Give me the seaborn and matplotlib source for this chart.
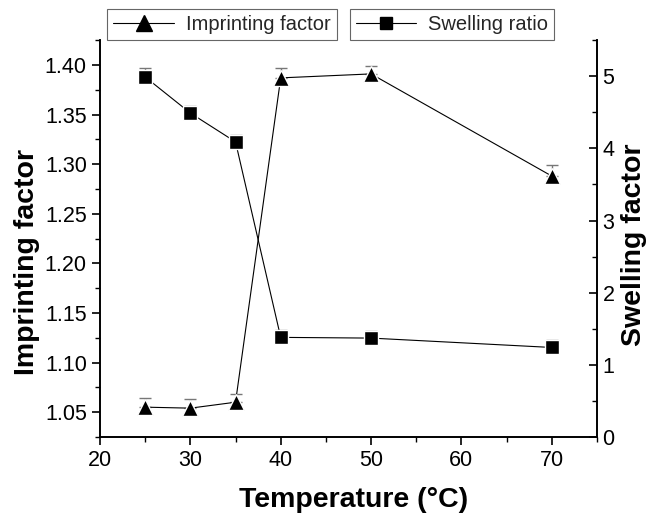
import matplotlib
matplotlib.use("Agg")
import matplotlib.pyplot as plt
import seaborn as sns
import pandas as pd
from matplotlib.ticker import MultipleLocator
from matplotlib.lines import Line2D

temps = [25, 30, 35, 40, 50, 70]
imprint = [1.055, 1.054, 1.060, 1.387, 1.391, 1.288]
imprint_err = [0.009, 0.009, 0.008, 0.010, 0.008, 0.011]
swell = [4.99, 4.49, 4.09, 1.38, 1.37, 1.24]
swell_err = [0.12, 0.10, 0.09, 0.10, 0.10, 0.10]

x_ticks = [20, 30, 40, 50, 60, 70]
left_ticks = [1.05, 1.10, 1.15, 1.20, 1.25, 1.30, 1.35, 1.40]
right_ticks = [0, 1, 2, 3, 4, 5]

sns.set_theme(style="white")
plt.rcParams['font.family'] = ['Liberation Sans', 'DejaVu Sans']

df = pd.DataFrame({"T": temps, "imp": imprint, "sw": swell})

fig = plt.figure(figsize=(6.51, 5.22), dpi=100)
ax = fig.add_axes([0.1536, 0.163, 0.7634, 0.760])
ax2 = ax.twinx()

line_kw = dict(color="black", linewidth=0.8, markeredgecolor="white", markeredgewidth=1.0)
sns.lineplot(data=df, x="T", y="imp", ax=ax, marker="^", markersize=12, zorder=3, **line_kw)
ax.errorbar(temps, imprint, yerr=[[0] * len(temps), imprint_err], fmt="none",
            ecolor="#777777", elinewidth=1.0, capsize=4.5, capthick=1.0, zorder=2)

sns.lineplot(data=df, x="T", y="sw", ax=ax2, marker="s", markersize=9.5, zorder=3, **line_kw)
ax2.errorbar(temps, swell, yerr=[[0] * len(temps), swell_err], fmt="none",
             ecolor="#777777", elinewidth=1.0, capsize=4.5, capthick=1.0, zorder=2)

ax.set_xlim(20, 75)
ax.set_ylim(1.025, 1.425)
ax2.set_ylim(0, 5.5)
ax.set_xticks(x_ticks)
ax.set_yticks(left_ticks)
ax2.set_yticks(right_ticks)
ax.set_yticklabels([f"{v:.2f}" for v in left_ticks])
ax.xaxis.set_minor_locator(MultipleLocator(5))
ax.yaxis.set_minor_locator(MultipleLocator(0.025))
ax2.yaxis.set_minor_locator(MultipleLocator(0.5))

for a in (ax, ax2):
    a.spines["top"].set_visible(False)
    for s in a.spines.values():
        s.set_color("black")
        s.set_linewidth(1.2)
    a.grid(False)

ax.tick_params(axis="both", which="major", direction="out", length=6, width=1.2,
               labelsize=15.5, color="black", labelcolor="black", left=True, bottom=True)
ax.tick_params(axis="both", which="minor", direction="out", length=3.5, width=1.0,
               color="black", left=True, bottom=True)
ax2.tick_params(axis="y", which="major", direction="in", length=6, width=1.2,
                labelsize=15.5, color="black", labelcolor="black", right=True, pad=4)
ax2.tick_params(axis="y", which="minor", direction="in", length=3.5, width=1.0,
                color="black", right=True)

bold = dict(fontsize=20.5, fontweight="bold", color="black")
ax.set_xlabel("Temperature (°C)", **bold)
ax.set_ylabel("Imprinting factor", **bold)
ax2.set_ylabel("Swelling factor", rotation=90, **bold)
ax.xaxis.set_label_coords(0.51, -0.158)
ax.yaxis.set_label_coords(-0.147, 0.44)
ax2.yaxis.set_label_coords(1.075, 0.485)
ax.xaxis.label.set_verticalalignment("center")
ax.yaxis.label.set_verticalalignment("center")
ax2.yaxis.label.set_verticalalignment("center")

h1 = Line2D([], [], color="black", linewidth=0.8, marker="^", markersize=11)
h2 = Line2D([], [], color="black", linewidth=0.8, marker="s", markersize=9)
leg_font = {"family": "Liberation Sans", "size": 14.5}
leg_kw = dict(loc="lower left", prop=leg_font, fancybox=False, edgecolor="#666666",
              framealpha=1, borderpad=0.3, handlelength=3.0, handletextpad=0.6,
              borderaxespad=0)
lg1 = fig.legend([h1], ["Imprinting factor"], bbox_to_anchor=(0.165, 0.923), **leg_kw)
lg2 = fig.legend([h2], ["Swelling ratio"], bbox_to_anchor=(0.537, 0.923), **leg_kw)
for lg in (lg1, lg2):
    lg.get_frame().set_linewidth(0.8)

fig.savefig("out.png", dpi=100)
